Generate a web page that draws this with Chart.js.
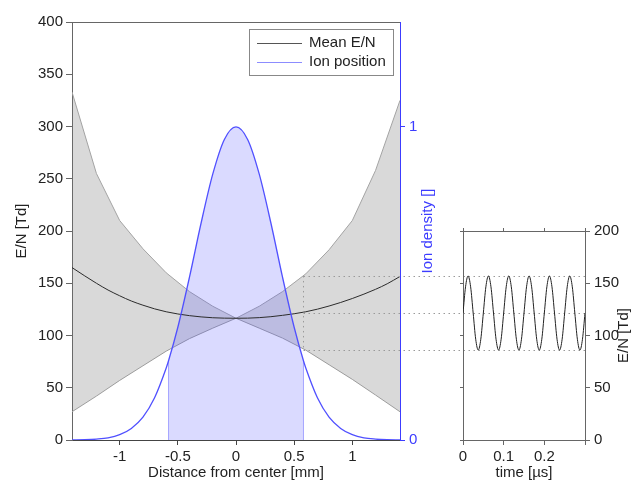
<!DOCTYPE html>
<html>
<head>
<meta charset="utf-8">
<script src="https://cdn.jsdelivr.net/npm/chart.js@4.4.1/dist/chart.umd.min.js"></script>
<style>
  body { margin: 0; background: #fff; }
  #wrap { position: relative; width: 636px; height: 484px; }
  canvas { position: absolute; left: 0; top: 0; }
</style>
</head>
<body>
<div id="wrap">
  <canvas id="mainChart" width="636" height="484"></canvas>
  <canvas id="timeChart" width="636" height="484"></canvas>
</div>
<script>
// mean E/N over distance from center [mm]
const meanX  = [-1.41, -1.3, -1.2, -1.1, -1.0, -0.9, -0.8, -0.7, -0.6, -0.5, -0.4, -0.3, -0.2, -0.1, 0,
                0.1, 0.2, 0.3, 0.4, 0.5, 0.6, 0.7, 0.8, 0.9, 1.0, 1.1, 1.2, 1.3, 1.41];
const meanEN = [165, 157, 150, 143.5, 138, 133, 129, 125.5, 122.7, 120.6, 119, 117.8, 117, 116.6, 116.5,
                116.6, 117.1, 118, 119.3, 120.8, 122.7, 125.2, 128.2, 131.6, 135.4, 139.6, 144.2, 149.5, 156.5];

// min / max E/N band
const bandX     = [-1.41, -1.2, -1.0, -0.8, -0.6, -0.4, -0.2, 0, 0.2, 0.4, 0.6, 0.8, 1.0, 1.2, 1.41];
const bandUpper = [333, 255, 210, 183, 160, 142, 128, 116.5, 128, 142, 159, 182, 210, 258, 325];
const bandLower = [27, 42, 57, 71, 85, 97, 107, 116.5, 107, 97.5, 86, 72, 58, 43, 27];

// ion density
const ionX = [-1.41, -1.3, -1.2, -1.1, -1.0, -0.9, -0.8, -0.7, -0.6, -0.58, -0.5, -0.4, -0.3, -0.2, -0.1, 0,
              0.1, 0.2, 0.3, 0.4, 0.5, 0.58, 0.6, 0.7, 0.8, 0.9, 1.0, 1.1, 1.2, 1.3, 1.41];
const ionDensity = [0, 0.001, 0.003, 0.007, 0.017, 0.037, 0.073, 0.135, 0.23, 0.253, 0.36, 0.52, 0.693, 0.849, 0.96, 1,
                    0.96, 0.849, 0.693, 0.52, 0.36, 0.253, 0.23, 0.135, 0.073, 0.037, 0.017, 0.007, 0.003, 0.001, 0];
const ionWindow = [-0.58, 0.58];

// E/N seen by the ion over time [µs]
const timeUs = [0, 0.00625, 0.0125, 0.01875, 0.025, 0.03125, 0.0375, 0.04375,
                0.05, 0.05625, 0.0625, 0.06875, 0.075, 0.08125, 0.0875, 0.09375,
                0.1, 0.10625, 0.1125, 0.11875, 0.125, 0.13125, 0.1375, 0.14375,
                0.15, 0.15625, 0.1625, 0.16875, 0.175, 0.18125, 0.1875, 0.19375,
                0.2, 0.20625, 0.2125, 0.21875, 0.225, 0.23125, 0.2375, 0.24375,
                0.25, 0.25625, 0.2625, 0.26875, 0.275, 0.28125, 0.2875, 0.29375, 0.3];
const timeEN = [121.5, 146.6, 157, 146.6, 121.5, 96.4, 86, 96.4,
                121.5, 146.6, 157, 146.6, 121.5, 96.4, 86, 96.4,
                121.5, 146.6, 157, 146.6, 121.5, 96.4, 86, 96.4,
                121.5, 146.6, 157, 146.6, 121.5, 96.4, 86, 96.4,
                121.5, 146.6, 157, 146.6, 121.5, 96.4, 86, 96.4,
                121.5, 146.6, 157, 146.6, 121.5, 96.4, 86, 96.4, 121.5];

const BLUE = '#3c3cff';
const TEXT = '#222';
const AXIS = '#666';

Chart.defaults.font.family = '"Liberation Sans", Arial, sans-serif';
Chart.defaults.font.size = 15;
Chart.defaults.color = TEXT;

const pts = (xs, ys) => xs.map((x, i) => ({ x: x, y: ys[i] }));

// right-side axis titles read bottom to top like the left one
function rightTitle(scaleId, text, color) {
  return {
    id: 'rightTitle',
    afterDraw(chart) {
      const s = chart.scales[scaleId];
      const ctx = chart.ctx;
      ctx.save();
      ctx.translate(s.right - 12, (s.top + s.bottom) / 2);
      ctx.rotate(-Math.PI / 2);
      ctx.font = '15px "Liberation Sans", Arial, sans-serif';
      ctx.fillStyle = color;
      ctx.textAlign = 'center';
      ctx.textBaseline = 'middle';
      ctx.fillText(text, 0, 0);
      ctx.restore();
    }
  };
}

const timeChart = new Chart(document.getElementById('timeChart'), {
  type: 'line',
  data: {
    datasets: [{
      data: pts(timeUs, timeEN),
      borderColor: '#222',
      borderWidth: 1,
      pointRadius: 0,
      cubicInterpolationMode: 'monotone',
      fill: false
    }]
  },
  options: {
    responsive: false,
    animation: false,
    events: [],
    layout: { padding: { left: 457, top: 227, right: 0, bottom: 0 } },
    plugins: { legend: { display: false }, tooltip: { enabled: false } },
    scales: {
      x: {
        type: 'linear', position: 'bottom', min: 0, max: 0.3,
        ticks: { stepSize: 0.1, includeBounds: false, maxRotation: 0, autoSkip: false, padding: 3,
                 callback: v => v > 0.25 ? '' : String(Math.round(v * 10) / 10) },
        grid: { drawOnChartArea: false, tickLength: 5, color: AXIS },
        border: { color: AXIS },
        title: { display: true, text: 'time [µs]', padding: { top: 0, bottom: 2 } },
        afterFit: s => { s.height = 44; }
      },
      xTop: {
        type: 'linear', position: 'top', min: 0, max: 0.3,
        ticks: { display: false, stepSize: 0.1, includeBounds: false },
        grid: { drawOnChartArea: false, tickLength: 3, color: AXIS },
        border: { color: AXIS },
        afterFit: s => { s.height = 4; }
      },
      yLeft: {
        type: 'linear', position: 'left', min: 0, max: 200,
        ticks: { display: false, stepSize: 50 },
        grid: { drawOnChartArea: false, tickLength: 3, color: AXIS },
        border: { color: AXIS },
        afterFit: s => { s.width = 6; }
      },
      y: {
        type: 'linear', position: 'right', min: 0, max: 200,
        ticks: { stepSize: 50, padding: 4 },
        grid: { drawOnChartArea: false, tickLength: 5, color: AXIS },
        border: { color: AXIS },
        afterFit: s => { s.width = 51; }
      }
    }
  },
  plugins: [rightTitle('y', 'E/N [Td]', TEXT)]
});

// dotted guides from the ion window edge over to the time plot
const guideLines = {
  id: 'guideLines',
  afterDatasetsDraw(chart) {
    const ctx = chart.ctx;
    const xs = chart.scales.x, ys = chart.scales.y;
    const hi = Math.max(...timeEN), lo = Math.min(...timeEN);
    const levels = [hi, (hi + lo) / 2, lo];
    const x0 = Math.round(xs.getPixelForValue(ionWindow[1])) + 0.5;
    const x1 = timeChart.chartArea.right;
    ctx.save();
    ctx.strokeStyle = '#9a9a9a';
    ctx.lineWidth = 1;
    ctx.setLineDash([1.5, 3.5]);
    ctx.beginPath();
    levels.forEach(v => {
      const py = Math.round(ys.getPixelForValue(v)) + 0.5;
      ctx.moveTo(x0, py);
      ctx.lineTo(x1, py);
    });
    ctx.moveTo(x0, ys.getPixelForValue(hi));
    ctx.lineTo(x0, ys.getPixelForValue(lo));
    ctx.stroke();
    ctx.restore();
  }
};

const frameTop = {
  id: 'frameTop',
  afterDraw(chart) {
    const { ctx, chartArea } = chart;
    ctx.save();
    ctx.strokeStyle = AXIS;
    ctx.lineWidth = 1;
    ctx.beginPath();
    ctx.moveTo(chartArea.left, chartArea.top + 0.5);
    ctx.lineTo(chartArea.right, chartArea.top + 0.5);
    ctx.stroke();
    ctx.restore();
  }
};

const legendBox = {
  id: 'legendBox',
  afterDraw(chart) {
    const { ctx, chartArea } = chart;
    const items = chart.data.datasets.filter(d => d.label);
    const w = 144, h = 46;
    const bx = chartArea.right - 7 - w, by = chartArea.top + 7;
    ctx.save();
    ctx.fillStyle = '#fff';
    ctx.fillRect(bx, by, w, h);
    ctx.strokeStyle = '#888';
    ctx.lineWidth = 1;
    ctx.strokeRect(bx + 0.5, by + 0.5, w, h);
    ctx.font = '15px "Liberation Sans", Arial, sans-serif';
    ctx.textBaseline = 'middle';
    items.forEach((d, i) => {
      const ly = by + 14 + i * 19;
      ctx.strokeStyle = d.legendColor || d.borderColor;
      ctx.beginPath();
      ctx.moveTo(bx + 8, ly + 0.5);
      ctx.lineTo(bx + 53, ly + 0.5);
      ctx.stroke();
      ctx.fillStyle = TEXT;
      ctx.fillText(d.label, bx + 60, ly);
    });
    ctx.restore();
  }
};

const inWindow = ionX.map((x, i) => ({ x: x, y: ionDensity[i] }))
  .filter(p => p.x >= ionWindow[0] && p.x <= ionWindow[1]);
const edgeL = [{ x: ionWindow[0], y: 0 }, inWindow[0]];
const edgeR = [{ x: ionWindow[1], y: 0 }, inWindow[inWindow.length - 1]];

new Chart(document.getElementById('mainChart'), {
  type: 'line',
  data: {
    datasets: [
      { data: pts(bandX, bandUpper), yAxisID: 'y', borderColor: '#a3a3a3', borderWidth: 1,
        backgroundColor: 'rgba(120,120,120,0.28)', fill: '+1', tension: 0, pointRadius: 0, order: 6 },
      { data: pts(bandX, bandLower), yAxisID: 'y', borderColor: '#a3a3a3', borderWidth: 1,
        fill: false, tension: 0, pointRadius: 0, order: 6 },
      { data: inWindow, yAxisID: 'y2', borderWidth: 0, backgroundColor: 'rgba(85,85,255,0.22)',
        fill: 'origin', cubicInterpolationMode: 'monotone', pointRadius: 0, order: 5 },
      { data: edgeL, yAxisID: 'y2', borderColor: '#a5a5ff', borderWidth: 1, pointRadius: 0, fill: false, order: 4 },
      { data: edgeR, yAxisID: 'y2', borderColor: '#a5a5ff', borderWidth: 1, pointRadius: 0, fill: false, order: 4 },
      { label: 'Mean E/N', data: pts(meanX, meanEN), yAxisID: 'y', borderColor: '#2b2b2b', borderWidth: 1,
        legendColor: '#555', cubicInterpolationMode: 'monotone', pointRadius: 0, fill: false, order: 2 },
      { label: 'Ion position', data: pts(ionX, ionDensity), yAxisID: 'y2', borderColor: '#5050ff', borderWidth: 1.3,
        legendColor: '#8c8cff', cubicInterpolationMode: 'monotone', pointRadius: 0, fill: false, order: 1 }
    ]
  },
  options: {
    responsive: false,
    animation: false,
    events: [],
    layout: { padding: { left: 0, top: 22, right: 196, bottom: 0 } },
    plugins: { legend: { display: false }, tooltip: { enabled: false } },
    scales: {
      x: {
        type: 'linear', min: -1.41, max: 1.41,
        ticks: { stepSize: 0.5, includeBounds: false, maxRotation: 0, autoSkip: false, padding: 3,
                 callback: v => String(Math.round(v * 100) / 100) },
        grid: { drawOnChartArea: false, tickLength: 5, color: '#444' },
        border: { color: '#444' },
        title: { display: true, text: 'Distance from center [mm]', padding: { top: 0, bottom: 2 } },
        afterFit: s => { s.height = 44; }
      },
      y: {
        type: 'linear', position: 'left', min: 0, max: 400,
        ticks: { stepSize: 50, padding: 3 },
        grid: { drawOnChartArea: false, tickLength: 6, color: AXIS },
        border: { color: AXIS },
        title: { display: true, text: 'E/N [Td]', padding: { top: 13, bottom: 0 } },
        afterFit: s => { s.width = 72; }
      },
      y2: {
        type: 'linear', position: 'right', min: 0, max: 1.335,
        ticks: { stepSize: 1, includeBounds: false, padding: 4, color: BLUE },
        grid: { drawOnChartArea: false, tickLength: 5, color: BLUE },
        border: { color: BLUE },
        afterFit: s => { s.width = 40; }
      }
    }
  },
  plugins: [guideLines, frameTop, legendBox, rightTitle('y2', 'Ion density []', BLUE)]
});
</script>
</body>
</html>
